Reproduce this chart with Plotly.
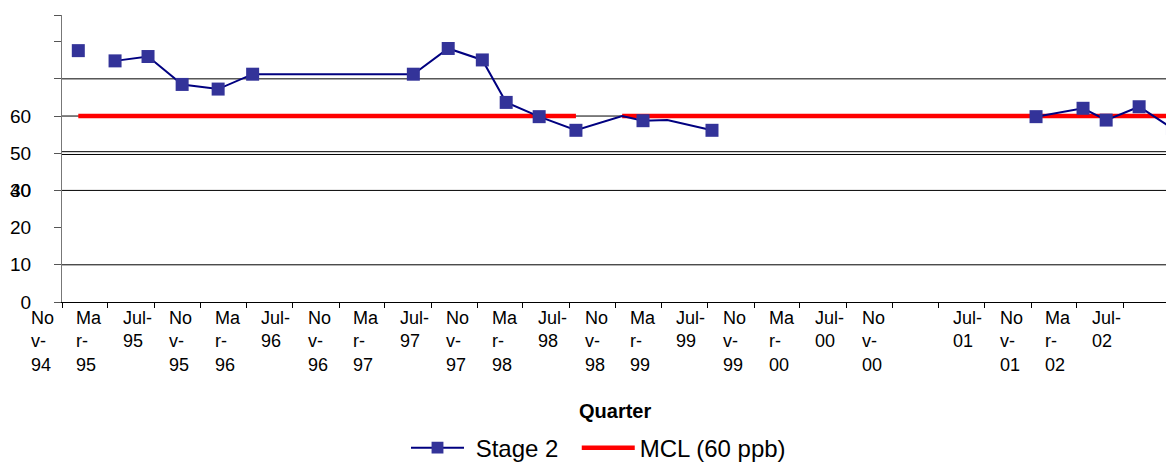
import plotly.graph_objects as go
import pandas as pd

# ---- data ----
stage2_dates = ["1995-02-13", "1995-04-01", "1995-05-21", "1995-08-16", "1995-11-14",
                "1996-02-17", "1996-05-18", "1997-07-16", "1997-10-16", "1998-01-14",
                "1998-03-18", "1998-06-13", "1998-09-18", "1999-01-18", "1999-03-14",
                "1999-05-17", "1999-09-12", "2000-11-01", "2002-01-14", "2002-05-18",
                "2002-07-18", "2002-10-13", "2003-01-09"]
stage2_ppb = [81.1, None, 77.8, 79.2, 70.2,
              68.7, 73.5, 73.5, 81.8, 78.1,
              64.4, 59.8, 55.4, 60.0, 58.5,
              58.7, 55.4, None, 59.8, 62.5,
              58.7, 63.0, 56.0]
stage2_marker_hidden = ["1999-01-18", "1999-05-17"]

mcl_dates = ["1995-02-13", "1998-09-18", "1998-11-15", "1999-01-18", "2003-03-01"]
mcl_ppb = [60, 60, None, 60, 60]

quarter_labels = ["Nov-94", "Mar-95", "Jul-95", "Nov-95", "Mar-96", "Jul-96", "Nov-96",
                  "Mar-97", "Jul-97", "Nov-97", "Mar-98", "Jul-98", "Nov-98", "Mar-99",
                  "Jul-99", "Nov-99", "Mar-00", "Jul-00", "Nov-00", "", "Jul-01",
                  "Nov-01", "Mar-02", "Jul-02"]
label_first = "1994-11-01"

ytick_vals = [0, 12, 24, 36, 48, 60, 72, 84, 92.5]
ytick_text = ["0", "10", "20", "30", "50", "60", "", "", ""]
ytick2_vals = [36]
ytick2_text = ["40"]
grid_vals = [12, 36, 47.6, 48.5, 60, 72]

X_RANGE = ["1995-01-01", "2003-01-13"]
Y_RANGE = [0, 92.6]
FONT = "Liberation Sans, Arial, sans-serif"
NB = "\u00a0"

fig = go.Figure()

fig.add_trace(go.Scatter(
    x=mcl_dates, y=mcl_ppb, name="MCL (60 ppb)", mode="lines",
    line=dict(color="#ff0000", width=4.5), connectgaps=False, yaxis="y",
    legendrank=2,
))
sizes = [0 if d in stage2_marker_hidden else 13 for d in stage2_dates]
fig.add_trace(go.Scatter(
    x=stage2_dates, y=stage2_ppb, name=NB + "Stage 2" + NB * 2, mode="lines+markers",
    line=dict(color="#000080", width=2),
    marker=dict(symbol="square", size=sizes, color="#333399", opacity=1,
                line=dict(width=0)),
    connectgaps=False, yaxis="y2", legendrank=1,
))

shapes = []
for g in grid_vals:
    shapes.append(dict(type="line", xref="paper", x0=0, x1=1, yref="y", y0=g, y1=g,
                       line=dict(color="black", width=1), layer="below"))

def wrap(s):
    if s.startswith("Jul"):
        return s[:4] + "<br>" + s[4:]
    return s[:2] + "<br>" + s[2:4] + "<br>" + s[4:]

r0, r1 = pd.Timestamp(X_RANGE[0]), pd.Timestamp(X_RANGE[1])
span = (r1 - r0).total_seconds()

annotations = []
label_dates = pd.date_range(label_first, periods=len(quarter_labels), freq="4MS")
for d, lab in zip(label_dates, quarter_labels):
    if not lab:
        continue
    annotations.append(dict(x=(d - r0).total_seconds() / span, xref="paper",
                            y=-0.014, yref="paper",
                            text=wrap(lab), showarrow=False, xanchor="left", yanchor="top",
                            align="left", xshift=-10,
                            font=dict(family=FONT, size=18, color="black")))
annotations.append(dict(x=0.497, xref="paper", y=-0.381, yref="paper",
                        text="<b>Quarter</b>", showarrow=False, xanchor="center",
                        yanchor="middle", font=dict(family=FONT, size=20, color="black")))

yax_common = dict(range=Y_RANGE, tickmode="array", automargin=False,
                  ticks="outside", ticklen=7, tickcolor="#555555", showgrid=False,
                  zeroline=False, ticklabelstandoff=19,
                  tickfont=dict(family=FONT, size=19, color="black"))

fig.update_layout(
    width=1166, height=466,
    margin=dict(l=54, r=0, t=7, b=172, autoexpand=False),
    paper_bgcolor="white", plot_bgcolor="white",
    font=dict(family=FONT, size=18, color="black"),
    showlegend=True,
    legend=dict(orientation="h", x=(398 - 54) / 1112, xanchor="left", y=-0.509,
                yanchor="middle", font=dict(family=FONT, size=24), itemwidth=53,
                bgcolor="rgba(0,0,0,0)", traceorder="normal"),
    shapes=shapes,
    annotations=annotations,
    xaxis=dict(type="date", range=X_RANGE, automargin=False,
               tick0="1995-01-01", dtick="M4", ticks="outside", ticklen=5,
               tickcolor="black", showticklabels=False, showgrid=False,
               showline=True, linecolor="black", linewidth=1, zeroline=False),
    yaxis=dict(tickvals=ytick_vals, ticktext=ytick_text,
               showline=True, linecolor="#777777", linewidth=1, **yax_common),
    yaxis2=dict(tickvals=ytick2_vals, ticktext=ytick2_text, overlaying="y", side="left",
                showline=False, **yax_common),
)

fig.write_html("out.html")
